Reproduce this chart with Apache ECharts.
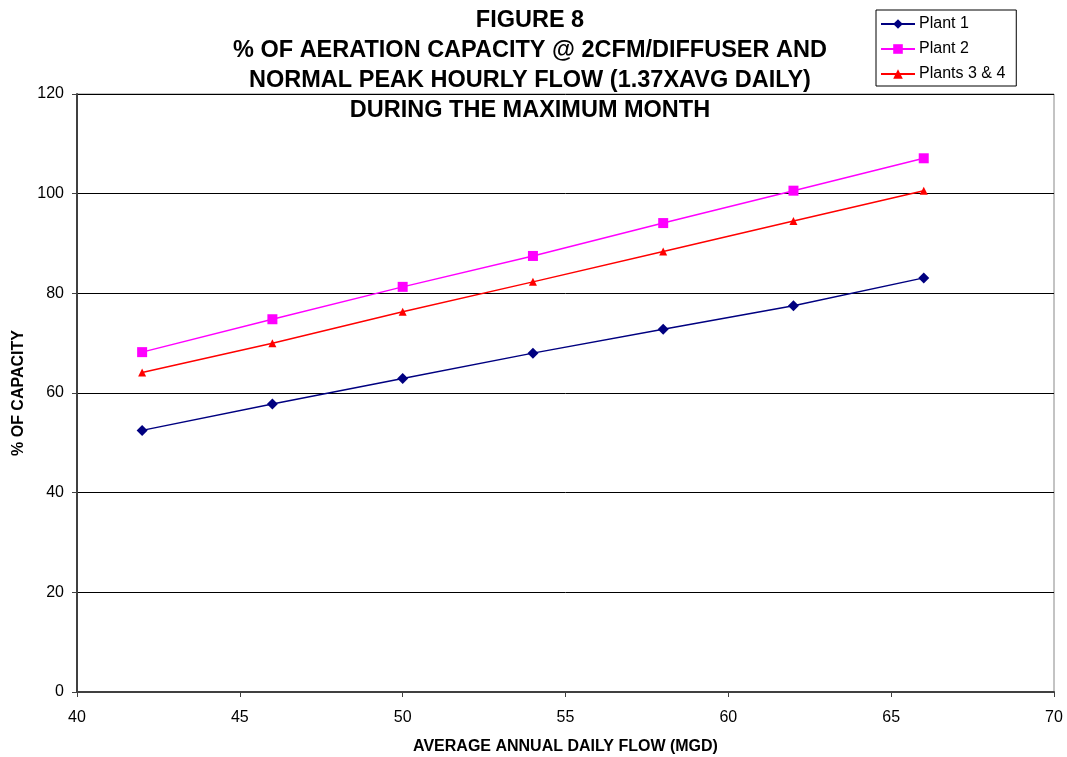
<!DOCTYPE html>
<html>
<head>
<meta charset="utf-8">
<script src="https://cdn.jsdelivr.net/npm/echarts@6/dist/echarts.min.js"></script>
<style>
html,body{margin:0;padding:0;background:#fff;}
#chart{width:1067px;height:757px;}
</style>
</head>
<body>
<div id="chart"></div>
<script>
const flows = [42, 46, 50, 54, 58, 62, 66];
const plant1 = [52.5, 57.8, 62.9, 68.0, 72.8, 77.5, 83.1];
const plant2 = [68.2, 74.8, 81.3, 87.5, 94.1, 100.6, 107.1];
const plants34 = [64.1, 70.0, 76.3, 82.3, 88.4, 94.5, 100.6];
const seriesNames = ['Plant 1', 'Plant 2', 'Plants 3 & 4'];
const titleLines = [
  'FIGURE 8',
  '% OF AERATION CAPACITY @ 2CFM/DIFFUSER AND',
  'NORMAL PEAK HOURLY FLOW (1.37XAVG DAILY)',
  'DURING THE MAXIMUM MONTH'
];
const xAxisTitle = 'AVERAGE ANNUAL DAILY FLOW (MGD)';
const yAxisTitle = '% OF CAPACITY';

const pair = (vals) => flows.map((x, i) => [x, vals[i]]);
const font = 'Liberation Sans, Arial, sans-serif';

const chart = echarts.init(document.getElementById('chart'));
chart.setOption({
  animation: false,
  backgroundColor: '#ffffff',
  textStyle: { fontFamily: font },
  title: {
    text: titleLines.join('\n'),
    left: 530,
    top: 6,
    padding: 0,
    textAlign: 'center',
    textStyle: { fontFamily: font, fontSize: 23.5, fontWeight: 'bold', color: '#000', lineHeight: 30 }
  },
  legend: {
    orient: 'vertical',
    left: 876,
    top: 10,
    width: 140,
    padding: [6, 11, 4, 4],
    itemGap: 9,
    itemWidth: 34,
    itemHeight: 12,
    borderColor: '#000',
    borderWidth: 1,
    data: seriesNames,
    textStyle: { fontFamily: font, fontSize: 16, color: '#000', padding: [0, 0, 0, -1] }
  },
  grid: {
    left: 77, right: 13, top: 94, bottom: 65,
    containLabel: false,
    outerBoundsMode: 'none',
    show: true, borderColor: '#888', borderWidth: 1
  },
  xAxis: {
    type: 'value', min: 40, max: 70, interval: 5,
    name: xAxisTitle, nameLocation: 'middle', nameGap: 47,
    nameTextStyle: { fontFamily: font, fontSize: 16, fontWeight: 'bold', color: '#000' },
    axisLine: { show: true, lineStyle: { color: '#404040', width: 2 } },
    axisTick: { show: true, length: 5, lineStyle: { color: '#404040', width: 1 } },
    axisLabel: { fontFamily: font, fontSize: 16, color: '#000', margin: 18 },
    splitLine: { show: false }
  },
  yAxis: {
    type: 'value', min: 0, max: 120, interval: 20,
    name: yAxisTitle, nameLocation: 'middle', nameGap: 50, nameRotate: 90,
    nameTextStyle: { fontFamily: font, fontSize: 16, fontWeight: 'bold', color: '#000' },
    axisLine: { show: true, lineStyle: { color: '#404040', width: 2 } },
    axisTick: { show: true, length: 5, lineStyle: { color: '#404040', width: 1 } },
    axisLabel: { fontFamily: font, fontSize: 16, color: '#000', margin: 13 },
    splitLine: { show: true, lineStyle: { color: '#000', width: 1 } }
  },
  series: [
    {
      name: seriesNames[0], type: 'line', data: pair(plant1),
      symbol: 'diamond', symbolSize: 11,
      lineStyle: { color: '#000080', width: 1.5 },
      itemStyle: { color: '#000080' }
    },
    {
      name: seriesNames[1], type: 'line', data: pair(plant2),
      symbol: 'rect', symbolSize: 10,
      lineStyle: { color: '#ff00ff', width: 1.5 },
      itemStyle: { color: '#ff00ff' }
    },
    {
      name: seriesNames[2], type: 'line', data: pair(plants34),
      symbol: 'triangle', symbolSize: 8,
      lineStyle: { color: '#ff0000', width: 1.5 },
      itemStyle: { color: '#ff0000' }
    }
  ]
});
</script>
</body>
</html>
